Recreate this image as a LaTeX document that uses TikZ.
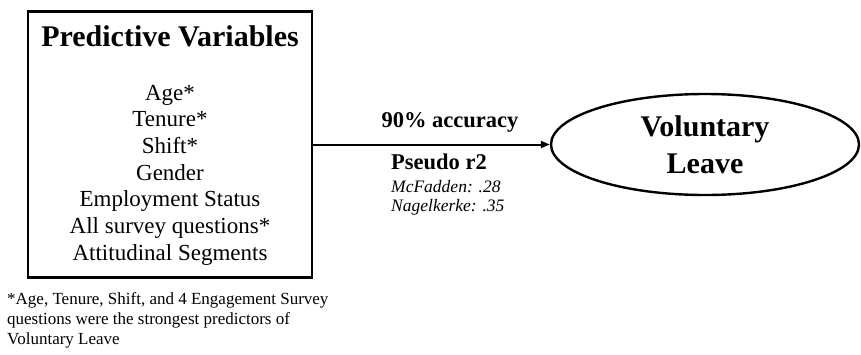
\documentclass[tikz,border=0pt]{standalone}
\usepackage{fontspec}
\setmainfont{Liberation Serif}
\usetikzlibrary{shapes.geometric,arrows.meta}

\tikzset{
  predbox/.style={draw, line width=2.4pt, minimum width=284pt, minimum height=266pt, inner sep=0pt},
  outcome/.style={ellipse, draw, line width=2.4pt, minimum width=308pt, minimum height=101pt,
                  inner sep=0pt, align=center, font=\bfseries\fontsize{30}{37}\selectfont},
  linkarrow/.style={-{Triangle[length=9pt,width=7pt]}, line width=2pt}
}

\begin{document}
\begin{tikzpicture}[x=1pt, y=-1pt]
  \useasboundingbox (0,0) rectangle (861,354);

  % box with the predictors
  \node[predbox] (pred) at (170,144.5) {};
  \node[font=\bfseries\fontsize{30}{34}\selectfont] (predtitle) at (170,36) {Predictive Variables};
  \node[align=center, font=\fontsize{23}{26.7}\selectfont] (predlist) at (170,175)
    {Age*\\Tenure*\\Shift*\\Gender\\Employment Status\\All survey questions*\\Attitudinal Segments};

  % outcome
  \node[outcome] (leave) at (705,144.5) {Voluntary\\Leave};

  % link with fit statistics
  \draw[linkarrow] (pred.east) -- (leave.west);
  \node[font=\bfseries\fontsize{22.5}{26}\selectfont] (acc) at (450,122) {90\% accuracy};
  \node[anchor=west, font=\bfseries\fontsize{22.5}{26}\selectfont, inner sep=0pt] (pseudo) at (391,162) {Pseudo r2};
  \node[anchor=west, inner sep=0pt, font=\itshape\fontsize{17.5}{20}\selectfont] (mcf) at (391,187) {McFadden: .28};
  \node[anchor=west, inner sep=0pt, font=\itshape\fontsize{17.5}{20}\selectfont] (nagel) at (391,207) {Nagelkerke: .35};

  % footnote
  \node[anchor=north west, align=left, inner sep=0pt, font=\fontsize{17}{20}\selectfont] (note) at (7,292)
    {*Age, Tenure, Shift, and 4 Engagement Survey\\questions were the strongest predictors of\\Voluntary Leave};
\end{tikzpicture}
\end{document}
